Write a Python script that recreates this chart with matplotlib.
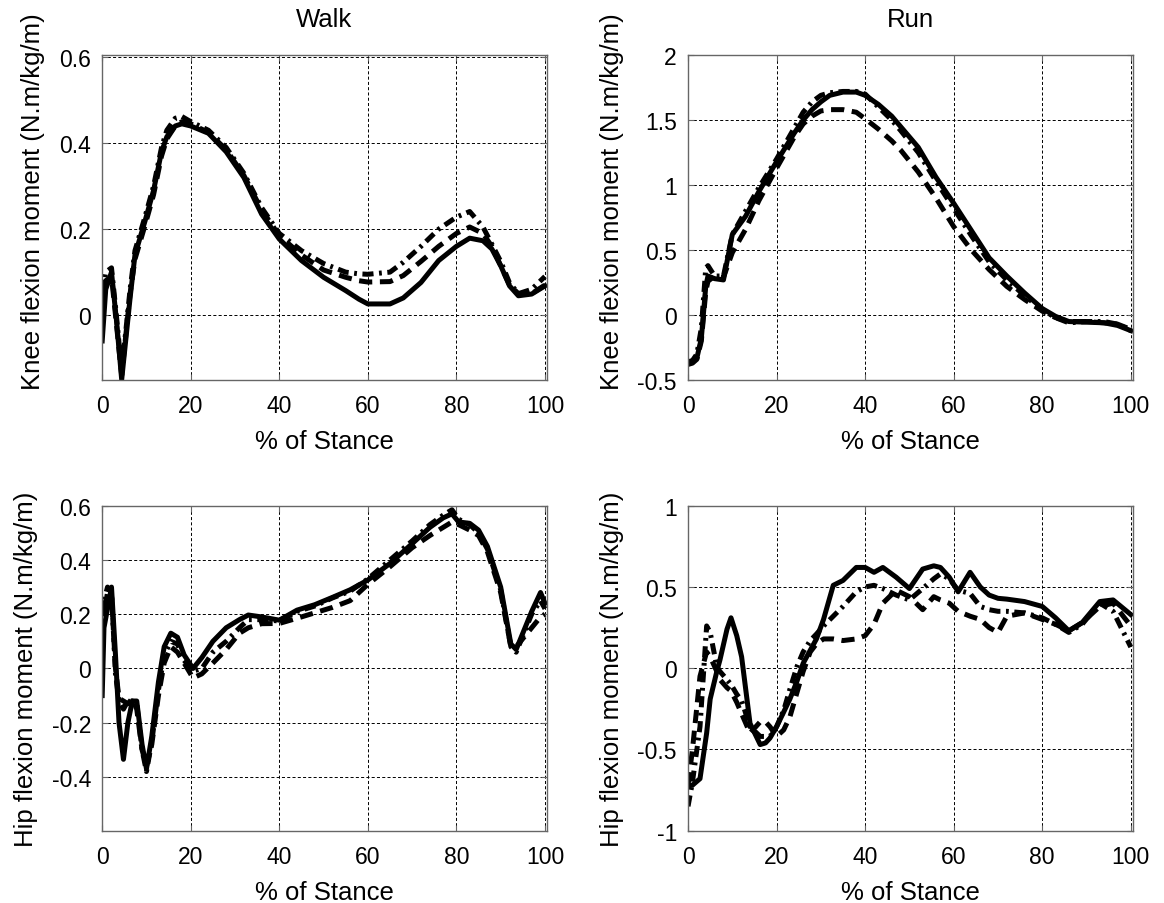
import matplotlib
matplotlib.use("Agg")
import matplotlib.pyplot as plt

plt.rcParams["font.family"] = ["Liberation Sans", "DejaVu Sans"]
plt.rcParams["lines.scale_dashes"] = False
plt.rcParams["axes.unicode_minus"] = False

# ---------------- Walk: knee flexion moment ----------------
walk_knee_x = [0, 0.8, 2.1, 3.2, 4.4, 5.3, 6.3, 7.4, 9.7, 11.6,
               13.4, 14.6, 16.5, 18, 20, 24, 28, 32, 36, 40,
               45, 50, 55, 58, 60, 65, 68, 72, 76, 80,
               83, 86, 88, 90, 92, 94, 97, 100]
walk_knee_solid = [-0.06, 0.06, 0.10, -0.01, -0.15, -0.06, 0.04, 0.14, 0.22, 0.29,
                   0.38, 0.415, 0.44, 0.445, 0.44, 0.423, 0.38, 0.32, 0.235, 0.177,
                   0.127, 0.088, 0.057, 0.037, 0.026, 0.026, 0.04, 0.076, 0.127, 0.16,
                   0.179, 0.173, 0.154, 0.115, 0.068, 0.045, 0.049, 0.068]
walk_knee_dash = [0.07, 0.08, 0.09, -0.02, -0.14, -0.05, 0.05, 0.13, 0.21, 0.28,
                  0.37, 0.41, 0.44, 0.45, 0.445, 0.425, 0.385, 0.325, 0.245, 0.185,
                  0.14, 0.105, 0.088, 0.08, 0.077, 0.078, 0.092, 0.125, 0.16, 0.19,
                  0.205, 0.19, 0.16, 0.115, 0.07, 0.05, 0.05, 0.07]
walk_knee_dashdot = [0.05, 0.10, 0.11, 0.0, -0.13, -0.04, 0.06, 0.15, 0.23, 0.30,
                     0.39, 0.43, 0.458, 0.462, 0.45, 0.43, 0.39, 0.33, 0.25, 0.19,
                     0.15, 0.12, 0.10, 0.096, 0.095, 0.10, 0.123, 0.16, 0.20, 0.228,
                     0.241, 0.205, 0.165, 0.125, 0.075, 0.05, 0.06, 0.09]

# ---------------- Run: knee flexion moment ----------------
run_knee_x = [0, 1, 2, 3, 4, 4.5, 6, 8, 10, 13,
              16, 20, 24, 26, 28, 30, 32, 35, 38, 40,
              43, 46, 48, 52, 56, 60, 64, 68, 72, 76,
              80, 83, 86, 90, 94, 97, 100]
run_knee_solid = [-0.37, -0.36, -0.33, -0.18, 0.22, 0.30, 0.28, 0.27, 0.62, 0.76,
                  0.95, 1.18, 1.40, 1.50, 1.58, 1.64, 1.69, 1.715, 1.715, 1.69,
                  1.62, 1.53, 1.45, 1.29, 1.06, 0.86, 0.65, 0.44, 0.30, 0.17,
                  0.05, -0.01, -0.05, -0.055, -0.06, -0.08, -0.12]
run_knee_dash = [-0.38, -0.37, -0.34, -0.20, 0.18, 0.26, 0.30, 0.29, 0.48, 0.66,
                 0.88, 1.13, 1.37, 1.47, 1.53, 1.57, 1.58, 1.58, 1.56, 1.51,
                 1.43, 1.34, 1.27, 1.10, 0.90, 0.68, 0.50, 0.35, 0.22, 0.12,
                 0.03, -0.02, -0.05, -0.05, -0.06, -0.07, -0.11]
run_knee_dashdot = [-0.36, -0.35, -0.30, -0.10, 0.36, 0.38, 0.30, 0.30, 0.62, 0.80,
                    0.98, 1.20, 1.44, 1.56, 1.64, 1.69, 1.71, 1.72, 1.72, 1.70,
                    1.60, 1.50, 1.42, 1.25, 1.03, 0.82, 0.61, 0.41, 0.27, 0.15,
                    0.04, -0.02, -0.06, -0.05, -0.05, -0.07, -0.12]

# ---------------- Walk: hip flexion moment ----------------
walk_hip_x = [0, 0.4, 1.2, 2.1, 3.0, 3.8, 4.8, 5.8, 6.8, 7.8,
              9.0, 10.0, 11.2, 12.7, 14.0, 15.5, 17.0, 18.5, 20.5, 22.5,
              25, 28, 31, 33, 36, 40, 44, 48, 52, 56,
              60, 65, 70, 74, 77, 79, 80.5, 83, 85, 87,
              90, 92.3, 93.5, 95, 97, 99, 100]
walk_hip_solid = [-0.10, 0.15, 0.22, 0.30, 0.05, -0.20, -0.335, -0.20, -0.12, -0.12,
                  -0.28, -0.37, -0.25, -0.05, 0.08, 0.13, 0.115, 0.05, 0.0, 0.04,
                  0.10, 0.15, 0.18, 0.197, 0.19, 0.178, 0.215, 0.235, 0.262, 0.29,
                  0.326, 0.387, 0.46, 0.52, 0.555, 0.57, 0.54, 0.535, 0.51, 0.45,
                  0.30, 0.09, 0.07, 0.13, 0.21, 0.28, 0.24]
walk_hip_dash = [0.25, 0.20, 0.28, 0.27, 0.0, -0.11, -0.12, -0.13, -0.11, -0.15,
                 -0.30, -0.36, -0.28, -0.10, 0.02, 0.08, 0.06, 0.02, -0.035, -0.02,
                 0.02, 0.07, 0.13, 0.15, 0.165, 0.166, 0.185, 0.205, 0.225, 0.25,
                 0.31, 0.375, 0.445, 0.49, 0.52, 0.54, 0.53, 0.51, 0.49, 0.43,
                 0.28, 0.08, 0.08, 0.11, 0.15, 0.19, 0.20]
walk_hip_dashdot = [0.10, 0.25, 0.30, 0.28, -0.02, -0.12, -0.15, -0.12, -0.12, -0.13,
                    -0.30, -0.38, -0.27, -0.08, 0.05, 0.10, 0.09, 0.03, -0.01, 0.0,
                    0.06, 0.10, 0.15, 0.18, 0.18, 0.175, 0.21, 0.23, 0.26, 0.285,
                    0.33, 0.40, 0.47, 0.53, 0.565, 0.585, 0.55, 0.53, 0.50, 0.44,
                    0.29, 0.08, 0.06, 0.12, 0.20, 0.25, 0.22]

# ---------------- Run: hip flexion moment ----------------
run_hip_x = [0, 1, 2.7, 4.2, 5, 6.5, 7.2, 8.8, 9.7, 11,
             12.1, 14, 16.3, 17.5, 18.5, 20, 21.6, 23, 24.6, 26,
             27.6, 29, 30.6, 32.8, 35, 38, 40, 42, 44, 47,
             50, 53, 55.5, 57, 59, 61, 63.7, 66, 68, 70,
             72, 76, 80, 83, 86, 89, 93, 96, 100]
run_hip_solid = [-0.72, -0.72, -0.68, -0.40, -0.19, -0.02, 0.05, 0.24, 0.31, 0.20,
                 0.07, -0.34, -0.47, -0.46, -0.43, -0.36, -0.27, -0.19, -0.08, 0.03,
                 0.11, 0.18, 0.30, 0.51, 0.54, 0.62, 0.62, 0.59, 0.62, 0.56,
                 0.49, 0.61, 0.63, 0.62, 0.56, 0.47, 0.59, 0.50, 0.45, 0.43,
                 0.425, 0.41, 0.38, 0.31, 0.23, 0.28, 0.41, 0.42, 0.33]
run_hip_dash = [-0.72, -0.50, -0.05, 0.10, 0.07, -0.02, -0.07, -0.12, -0.14, -0.21,
                -0.28, -0.40, -0.33, -0.33, -0.36, -0.42, -0.38, -0.30, -0.15, -0.02,
                0.10, 0.15, 0.18, 0.18, 0.17, 0.18, 0.20, 0.27, 0.40, 0.48,
                0.44, 0.36, 0.44, 0.42, 0.40, 0.35, 0.32, 0.30, 0.25, 0.22,
                0.32, 0.34, 0.30, 0.27, 0.23, 0.28, 0.38, 0.40, 0.26]
run_hip_dashdot = [-0.85, -0.70, -0.36, 0.26, 0.22, 0.01, -0.02, -0.07, -0.10, -0.16,
                   -0.20, -0.36, -0.42, -0.42, -0.42, -0.36, -0.26, -0.13, 0.01, 0.10,
                   0.17, 0.21, 0.26, 0.32, 0.38, 0.47, 0.50, 0.51, 0.49, 0.45,
                   0.42, 0.49, 0.55, 0.58, 0.55, 0.48, 0.46, 0.38, 0.36, 0.35,
                   0.35, 0.34, 0.31, 0.27, 0.22, 0.27, 0.40, 0.35, 0.13]

x_ticks = [0, 20, 40, 60, 80, 100]
walk_knee_yticks = [0, 0.2, 0.4, 0.6]
run_knee_yticks = [-0.5, 0, 0.5, 1, 1.5, 2]
walk_hip_yticks = [-0.4, -0.2, 0, 0.2, 0.4, 0.6]
run_hip_yticks = [-1, -0.5, 0, 0.5, 1]

x_label = "% of Stance"
knee_label = "Knee flexion moment (N.m/kg/m)"
hip_label = "Hip flexion moment (N.m/kg/m)"

LW = 3.6
STYLES = ["-", (0, (9.5, 5.5)), (0, (8, 4, 2, 4))]
SPINE = "0.4"

fig = plt.figure(figsize=(11.64, 9.04), dpi=100)
W, H = 0.3819, 0.3595
ax_wk = fig.add_axes([0.0878, 0.5785, W, H])
ax_rk = fig.add_axes([0.5911, 0.5785, W, H])
ax_wh = fig.add_axes([0.0878, 0.0800, W, H])
ax_rh = fig.add_axes([0.5911, 0.0800, W, H])


def fmt(v):
    return "{:g}".format(v)


def draw(ax, x, series, ylim, yticks, ylabel, title=None, label_y=0.5):
    for y, ls in zip(series, STYLES):
        ax.plot(x, y, color="black", linestyle=ls, linewidth=LW)
    ax.set_xlim(0, 100.4)
    ax.set_ylim(*ylim)
    ax.set_xticks(x_ticks)
    ax.set_xticklabels([fmt(v) for v in x_ticks])
    ax.set_yticks(yticks)
    ax.set_yticklabels([fmt(v) for v in yticks])
    ax.grid(True, color="black", linestyle=(0, (2.2, 1.6)), linewidth=0.7)
    ax.tick_params(direction="in", length=4, width=0.8, color=SPINE,
                   labelsize=16.5, top=True, right=True)
    ax.tick_params(axis="x", pad=10)
    ax.tick_params(axis="y", pad=8)
    for sp in ax.spines.values():
        sp.set_color(SPINE)
        sp.set_linewidth(1.0)
    ax.set_xlabel(x_label, fontsize=18.5, labelpad=9)
    ax.set_ylabel(ylabel, fontsize=18.5, labelpad=10)
    ax.yaxis.label.set_y(label_y)
    if title:
        ax.set_title(title, fontsize=18.5, pad=21)


draw(ax_wk, walk_knee_x, [walk_knee_solid, walk_knee_dash, walk_knee_dashdot],
     (-0.151, 0.605), walk_knee_yticks, knee_label, "Walk", label_y=0.552)
draw(ax_rk, run_knee_x, [run_knee_solid, run_knee_dash, run_knee_dashdot],
     (-0.5, 2.0), run_knee_yticks, knee_label, "Run", label_y=0.552)
draw(ax_wh, walk_hip_x, [walk_hip_solid, walk_hip_dash, walk_hip_dashdot],
     (-0.598, 0.6), walk_hip_yticks, hip_label)
draw(ax_rh, run_hip_x, [run_hip_solid, run_hip_dash, run_hip_dashdot],
     (-1.0, 1.0), run_hip_yticks, hip_label)

fig.savefig("out.png", dpi=100, facecolor="white")
